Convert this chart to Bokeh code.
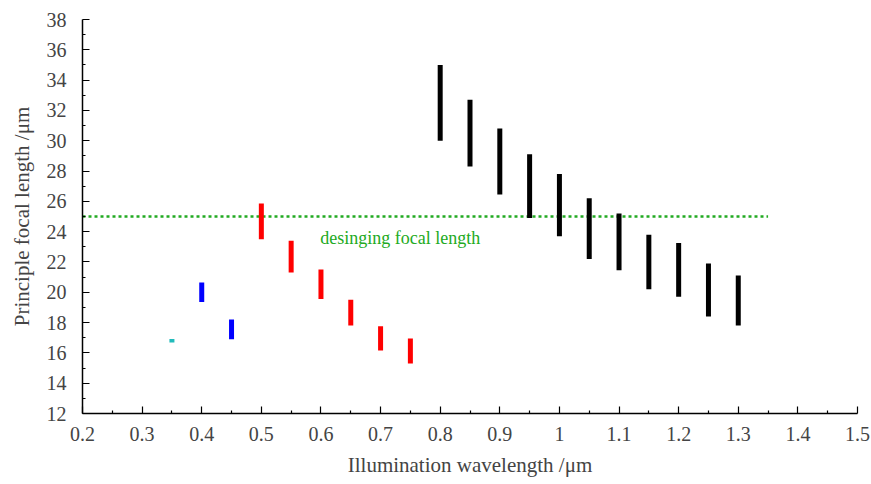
from bokeh.plotting import figure
from bokeh.models import FixedTicker, Range1d, Label
from bokeh.embed import file_html
from bokeh.resources import INLINE

# --- data ---
cyan_x = [0.35]
cyan_lo = [16.68]
cyan_hi = [16.92]

blue_x = [0.40, 0.45]
blue_lo = [19.35, 16.9]
blue_hi = [20.65, 18.2]

red_x = [0.50, 0.55, 0.60, 0.65, 0.70, 0.75]
red_lo = [23.5, 21.3, 19.55, 17.8, 16.15, 15.3]
red_hi = [25.85, 23.4, 21.5, 19.5, 17.75, 16.95]

black_x = [0.80, 0.85, 0.90, 0.95, 1.00, 1.05, 1.10, 1.15, 1.20, 1.25, 1.30]
black_lo = [30.0, 28.3, 26.45, 24.9, 23.7, 22.2, 21.45, 20.2, 19.7, 18.4, 17.8]
black_hi = [35.0, 32.7, 30.8, 29.1, 27.8, 26.2, 25.2, 23.8, 23.25, 21.9, 21.1]

design_x = [0.2, 1.35]
design_y = [25.0, 25.0]
design_label = "desinging focal length"

x_ticks = [0.2, 0.3, 0.4, 0.5, 0.6, 0.7, 0.8, 0.9, 1.0, 1.1, 1.2, 1.3, 1.4, 1.5]
x_tick_labels = ["0.2", "0.3", "0.4", "0.5", "0.6", "0.7", "0.8", "0.9", "1",
                 "1.1", "1.2", "1.3", "1.4", "1.5"]
x_minor = [0.25, 0.35, 0.45, 0.55, 0.65, 0.75, 0.85, 0.95, 1.05, 1.15, 1.25, 1.35, 1.45]
y_ticks = list(range(12, 39, 2))
y_minor = list(range(13, 38, 2))

FONT = "Liberation Serif"

p = figure(width=871, height=484, output_backend="svg", toolbar_location=None,
           x_range=Range1d(0.2, 1.5), y_range=Range1d(12, 38),
           x_axis_label="Illumination wavelength /\u03bcm",
           y_axis_label="Principle focal length /\u03bcm",
           min_border_left=82, min_border_right=14, min_border_top=19, min_border_bottom=71)
p.outline_line_color = None
p.xgrid.visible = False
p.ygrid.visible = False
p.background_fill_color = "white"
p.border_fill_color = "white"

# design line
p.line(design_x, design_y, line_color="#22aa22", line_width=2.5, line_dash="3 3")
p.add_layout(Label(x=0.599, y=23.6, text=design_label, text_color="#22aa22",
                   text_font=FONT, text_font_size="18px", text_baseline="middle"))

def bars(xs, lo, hi, color, w=5):
    p.segment(x0=xs, y0=lo, x1=xs, y1=hi, line_color=color, line_width=w, line_cap="butt")

bars(black_x, black_lo, black_hi, "black")
bars(red_x, red_lo, red_hi, "red")
bars(blue_x, blue_lo, blue_hi, "blue")
bars(cyan_x, cyan_lo, cyan_hi, "#22bbbb")

for ax, ticks, minor in ((p.xaxis[0], x_ticks, x_minor), (p.yaxis[0], y_ticks, y_minor)):
    ax.ticker = FixedTicker(ticks=ticks, minor_ticks=minor)
    ax.major_tick_in = 7
    ax.major_tick_out = 0
    ax.minor_tick_in = 3
    ax.minor_tick_out = 0
    ax.axis_line_width = 1.5
    ax.major_tick_line_width = 1.2
    ax.minor_tick_line_width = 1.2
    ax.major_label_text_font = FONT
    ax.major_label_text_font_size = "20px"
    ax.axis_label_text_font = FONT
    ax.axis_label_text_font_size = "21px"
    ax.axis_label_text_font_style = "normal"

p.xaxis[0].major_label_standoff = 13
p.xaxis[0].axis_label_standoff = 9
p.yaxis[0].major_label_standoff = 16
p.yaxis[0].axis_label_standoff = 10

p.xaxis[0].major_label_overrides = {t: l for t, l in zip(x_ticks, x_tick_labels)}

open("out.html", "w").write(file_html(p, INLINE))
